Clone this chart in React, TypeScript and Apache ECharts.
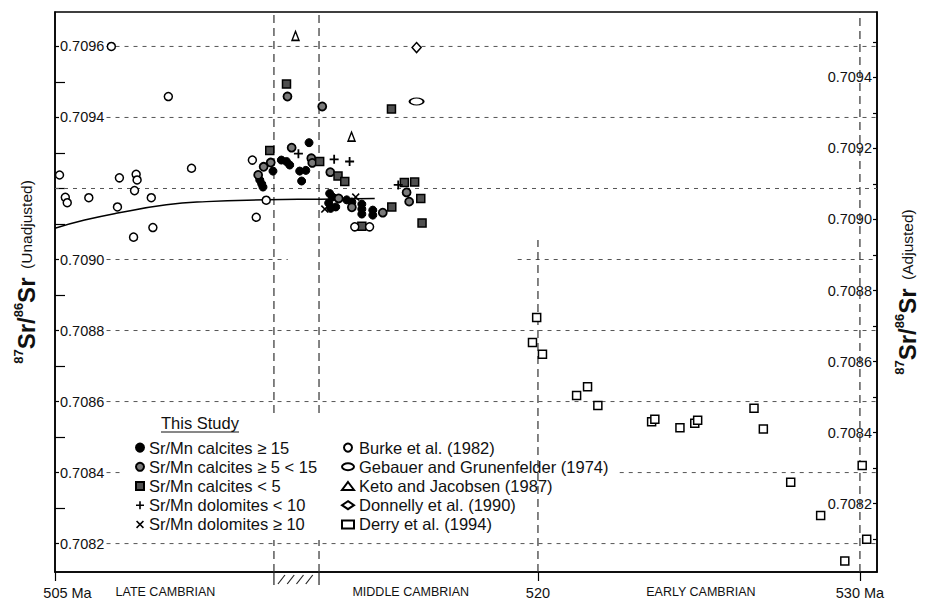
import React, { useEffect, useRef } from "react";
import * as echarts from "echarts";

type Pt = [number, number];

// ---------- data (age in Ma, 87Sr/86Sr unadjusted) ----------
const calcitesHigh: Pt[] = [
  [512.89, 0.709329], [512.03, 0.70928], [512.19, 0.709276], [512.29, 0.709266],
  [511.77, 0.709249], [511.36, 0.709224], [511.42, 0.709213], [511.46, 0.709204],
  [512.6, 0.709249], [512.79, 0.709251], [512.66, 0.709221], [513.53, 0.709186],
  [513.62, 0.709176], [513.5, 0.709159], [513.72, 0.709148], [513.56, 0.709144],
  [514.06, 0.709168], [514.22, 0.709162], [514.53, 0.709156], [514.53, 0.709142],
  [514.53, 0.709128], [514.87, 0.709139], [514.87, 0.709125],
];
const calcitesMid: Pt[] = [
  [512.22, 0.709459], [513.3, 0.709431], [512.35, 0.709315], [511.7, 0.709273],
  [511.48, 0.709261], [511.31, 0.709238], [512.96, 0.709285], [512.99, 0.709272],
  [513.55, 0.709246], [513.81, 0.709172], [514.22, 0.709147], [515.18, 0.709132],
  [515.92, 0.709189], [516.0, 0.709163],
];
const calcitesLow: Pt[] = [
  [512.19, 0.709494], [515.45, 0.709424], [511.67, 0.709307], [513.22, 0.709276],
  [513.79, 0.709235], [514.0, 0.70922], [515.85, 0.709217], [516.17, 0.709218],
  [516.36, 0.709172], [515.46, 0.709148], [516.4, 0.709103], [514.53, 0.709094],
];
const dolomitesLow: Pt[] = [
  [512.56, 0.709298], [513.67, 0.709282], [514.15, 0.709276], [515.66, 0.70921],
];
const dolomitesHigh: Pt[] = [[513.38, 0.709142], [514.34, 0.709176]];
const burke: Pt[] = [
  [506.75, 0.7096], [505.14, 0.709238], [505.32, 0.709175], [505.38, 0.70916],
  [506.05, 0.709174], [507.0, 0.70923], [506.94, 0.709148], [507.52, 0.70924],
  [507.55, 0.709224], [507.47, 0.709194], [507.99, 0.709174], [507.44, 0.709063],
  [508.04, 0.70909], [508.52, 0.709459], [509.24, 0.709257], [511.13, 0.70928],
  [511.25, 0.709119], [511.56, 0.709167], [514.31, 0.709092], [514.77, 0.709092],
];
const gebauer: Pt[] = [[516.23, 0.709445]];
const keto: Pt[] = [[512.47, 0.70963], [514.21, 0.709346]];
const donnelly: Pt[] = [[516.23, 0.709597]];
const derry: Pt[] = [
  [519.96, 0.708837], [519.83, 0.708766], [520.14, 0.708733], [521.2, 0.708617],
  [521.54, 0.708642], [521.86, 0.708589], [523.53, 0.708543], [523.63, 0.70855],
  [524.41, 0.708526], [524.87, 0.708539], [524.96, 0.708547], [526.71, 0.708581],
  [527.0, 0.708523], [527.85, 0.708373], [528.78, 0.708279], [529.53, 0.708151],
  [530.07, 0.70842], [530.21, 0.708212],
];
const trendCurve: Pt[] = [
  [505.0, 0.709088], [505.92, 0.709111], [506.9, 0.70913], [508.46, 0.709154],
  [509.7, 0.709163], [511.56, 0.709168], [513.22, 0.70917], [514.93, 0.709172],
];

// ---------- axes ----------
const xMin = 505;
const xMax = 530.53;
const leftMin = 0.70812;
const leftMax = 0.709697;
const adjustShift = 0.0001127;
const rightMin = leftMin - adjustShift;
const rightMax = leftMax - adjustShift;

const leftLabelValues = [0.7082, 0.7084, 0.7086, 0.7088, 0.709, 0.7094, 0.7096];
const leftMinorTicks = [0.7083, 0.7085, 0.7087, 0.7089, 0.7091, 0.7092, 0.7093, 0.7095];
const rightLabelValues = [0.7082, 0.7084, 0.7086, 0.7088, 0.709, 0.7092, 0.7094];
const rightTicks = [
  0.7081, 0.7082, 0.7083, 0.7084, 0.7085, 0.7086, 0.7087, 0.7088,
  0.7089, 0.709, 0.7091, 0.7092, 0.7093, 0.7094, 0.7095,
];
const xTickValues = [505, 520, 530];
const xLabels: [number, string][] = [
  [505, "505 Ma"],
  [508.43, "LATE CAMBRIAN"],
  [516.05, "MIDDLE CAMBRIAN"],
  [520, "520"],
  [525.06, "EARLY CAMBRIAN"],
  [530, "530 Ma"],
];
const boundaryBand: [number, number] = [511.8, 513.2];

// dashed guide lines: [xFrom, xTo, y]
const hGuides: [number, number, number][] = [
  [506.6, xMax, 0.7096],
  [506.6, xMax, 0.7094],
  [505, xMax, 0.7092],
  [506.6, 512.23, 0.709],
  [519.37, xMax, 0.709],
  [506.6, xMax, 0.7088],
  [506.6, xMax, 0.7086],
  [506.6, 507.1, 0.7084],
  [522.54, xMax, 0.7084],
  [506.6, xMax, 0.7082],
];
// [x, yFrom, yTo]
const vGuides: [number, number, number][] = [
  [511.8, 0.708568, leftMax],
  [511.8, leftMin, 0.70821],
  [513.2, 0.708568, leftMax],
  [513.2, leftMin, 0.70821],
  [520, leftMin, 0.709055],
  [530, leftMin, leftMax],
];

const SANS = "'Liberation Sans', Arial, Helvetica, sans-serif";
const INK = "#111";

const plusPath = "path://M4,0H6V4H10V6H6V10H4V6H0V4H4Z";
const crossPath =
  "path://M1.4,0L5,3.6L8.6,0L10,1.4L6.4,5L10,8.6L8.6,10L5,6.4L1.4,10L0,8.6L3.6,5L0,1.4Z";
const ellipsePath = "path://M0,4A7,4 0 1,1 14,4A7,4 0 1,1 0,4Z";

const NAMES = {
  c15: "Sr/Mn calcites \u2265 15",
  c5: "Sr/Mn calcites \u2265 5 < 15",
  c0: "Sr/Mn calcites < 5",
  d10: "Sr/Mn dolomites < 10",
  dx: "Sr/Mn dolomites \u2265 10",
  burke: "Burke et al. (1982)",
  geb: "Gebauer and Grunenfelder (1974)",
  keto: "Keto and Jacobsen (1987)",
  don: "Donnelly et al. (1990)",
  derry: "Derry et al. (1994)",
};

const nameRich = {
  sup: { fontFamily: SANS, fontSize: 13, fontWeight: "bold", verticalAlign: "top", lineHeight: 15, color: INK },
  sr: { fontFamily: SANS, fontSize: 24, fontWeight: "bold", lineHeight: 28, verticalAlign: "middle", color: INK },
  txt: { fontFamily: SANS, fontSize: 15.5, lineHeight: 28, verticalAlign: "middle", color: INK },
};

function scatter(name: string, data: Pt[], symbol: string, size: number | number[], fill: string, border: string, bw: number) {
  return {
    type: "scatter",
    name,
    data,
    symbol,
    symbolSize: size,
    z: 4,
    itemStyle: { color: fill, borderColor: border, borderWidth: bw, opacity: 1 },
    emphasis: { disabled: true },
  };
}

const legendText = { fontFamily: SANS, fontSize: 16.5, lineHeight: 19.2, color: INK };
const tickFont = { fontFamily: SANS, fontSize: 14.5, color: INK };

function buildOption() {
  return {
    animation: false,
    backgroundColor: "#fff",
    grid: { left: 55, right: 51, top: 12, bottom: 29, show: true, borderColor: "#000", borderWidth: 1.5, backgroundColor: "transparent" },
    xAxis: {
      type: "value",
      min: xMin,
      max: xMax,
      axisLine: { show: true, lineStyle: { color: "#000", width: 1.5 } },
      axisTick: { show: true, inside: false, length: 9, customValues: xTickValues, lineStyle: { color: "#000", width: 1.2 } },
      axisLabel: {
        customValues: xLabels.map((l) => l[0]),
        margin: 13,
        ...tickFont,
        formatter: (v: number) => {
          const f = xLabels.find((l) => Math.abs(l[0] - v) < 1e-6);
          if (!f) return "";
          if (f[0] === 505) return "{shift|" + f[1] + "}";
          if (/[A-Z]{3}/.test(f[1])) return "{era|" + f[1] + "}";
          return "{num|" + f[1] + "}";
        },
        rich: {
          shift: { ...tickFont, padding: [0, 0, 0, 25] },
          num: { ...tickFont },
          era: { fontFamily: SANS, fontSize: 12.5, color: INK },
        },
      },
      splitLine: { show: false },
    },
    yAxis: [
      {
        type: "value",
        min: leftMin,
        max: leftMax,
        position: "left",
        axisLine: { show: true, lineStyle: { color: "#000", width: 1.5 } },
        axisTick: { show: true, inside: true, length: 4, customValues: leftLabelValues, lineStyle: { color: "#000", width: 1.2 } },
        axisLabel: {
          inside: true,
          margin: 5,
          customValues: leftLabelValues,
          formatter: (v: number) => v.toFixed(4),
          ...tickFont,
        },
        splitLine: { show: false },
        name: "{sup|87}{sr|Sr/}{sup|86}{sr|Sr}{txt|  (Unadjusted)}",
        nameLocation: "middle",
        nameRotate: 90,
        nameGap: 15,
        nameTextStyle: { rich: nameRich, padding: [0, 0, 0, 40] },
      },
      {
        type: "value",
        min: rightMin,
        max: rightMax,
        position: "right",
        axisLine: { show: true, lineStyle: { color: "#000", width: 1.5 } },
        axisTick: { show: true, inside: true, length: 4, customValues: rightTicks, lineStyle: { color: "#000", width: 1.2 } },
        axisLabel: {
          inside: true,
          margin: 5,
          customValues: rightLabelValues,
          formatter: (v: number) => v.toFixed(4),
          ...tickFont,
        },
        splitLine: { show: false },
        name: "{sup|87}{sr|Sr/}{sup|86}{sr|Sr}{txt|  (Adjusted)}",
        nameLocation: "middle",
        nameRotate: 90,
        nameGap: 16,
        nameTextStyle: { rich: nameRich },
      },
      {
        type: "value",
        min: leftMin,
        max: leftMax,
        position: "left",
        axisLine: { show: false },
        axisTick: { show: true, inside: true, length: 10, customValues: leftMinorTicks, lineStyle: { color: "#000", width: 1.2 } },
        axisLabel: { show: false },
        splitLine: { show: false },
      },
    ],
    legend: [
      {
        data: [NAMES.c15, NAMES.c5, NAMES.c0, NAMES.d10, NAMES.dx],
        orient: "vertical",
        left: 130,
        top: 433,
        padding: 5,
        itemWidth: 8,
        itemHeight: 8,
        itemGap: 0,
        selectedMode: false,
        textStyle: legendText,
      },
      {
        data: [NAMES.burke, NAMES.geb, NAMES.keto, NAMES.don, NAMES.derry],
        orient: "vertical",
        left: 336,
        top: 433,
        padding: 5,
        itemWidth: 12,
        itemHeight: 8,
        itemGap: 0,
        selectedMode: false,
        textStyle: legendText,
      },
    ],
    graphic: [
      { type: "text", left: 161, top: 414, style: { text: "This Study", fontFamily: SANS, fontSize: 16.5, fill: INK } },
      { type: "line", shape: { x1: 161, y1: 432, x2: 239, y2: 432 }, style: { stroke: INK, lineWidth: 1 } },
    ],
    series: [
      {
        type: "custom",
        name: "guides",
        silent: true,
        clip: false,
        z: 1,
        data: [
          ...hGuides.map(([a, b, y]) => [a, y, b, y, 0]),
          ...vGuides.map(([x, a, b]) => [x, a, x, b, 1]),
        ],
        encode: { x: [0, 2], y: [1, 3] },
        renderItem: (_p: any, api: any) => {
          const a = api.coord([api.value(0), api.value(1)]);
          const b = api.coord([api.value(2), api.value(3)]);
          const vertical = api.value(4) === 1;
          return {
            type: "line",
            shape: { x1: a[0], y1: a[1], x2: b[0], y2: b[1] },
            style: { stroke: vertical ? "#333" : "#555", lineWidth: vertical ? 1.2 : 1, lineDash: vertical ? [8, 5] : [4, 5] },
          };
        },
      },
      {
        type: "custom",
        name: "boundary",
        silent: true,
        clip: false,
        z: 1,
        data: [[boundaryBand[0], boundaryBand[1], leftMin]],
        encode: { x: [0, 1], y: 2 },
        renderItem: (_p: any, api: any) => {
          const a = api.coord([api.value(0), api.value(2)]);
          const b = api.coord([api.value(1), api.value(2)]);
          const children: any[] = [
            { type: "line", shape: { x1: a[0], y1: a[1], x2: a[0], y2: a[1] + 13 }, style: { stroke: "#222", lineWidth: 1.2 } },
            { type: "line", shape: { x1: b[0], y1: b[1], x2: b[0], y2: b[1] + 13 }, style: { stroke: "#222", lineWidth: 1.2 } },
          ];
          const w = b[0] - a[0];
          for (let i = 0; i < 4; i++) {
            const x = a[0] + 4 + (i * (w - 8)) / 4;
            children.push({ type: "line", shape: { x1: x, y1: a[1] + 12, x2: x + 7, y2: a[1] + 3 }, style: { stroke: "#222", lineWidth: 1.2 } });
          }
          return { type: "group", children };
        },
      },
      {
        type: "line",
        name: "trend",
        data: trendCurve,
        smooth: true,
        showSymbol: false,
        symbol: "none",
        z: 3,
        lineStyle: { color: "#000", width: 1.5 },
        emphasis: { disabled: true },
      },
      scatter(NAMES.c15, calcitesHigh, "circle", 8, "#000", "#000", 1),
      scatter(NAMES.c5, calcitesMid, "circle", 8, "#7a7a7a", "#000", 1.8),
      scatter(NAMES.c0, calcitesLow, "rect", 8, "#505050", "#000", 1.5),
      scatter(NAMES.d10, dolomitesLow, plusPath, 9, "#000", "#000", 0),
      scatter(NAMES.dx, dolomitesHigh, crossPath, 8, "#000", "#000", 0),
      scatter(NAMES.burke, burke, "circle", 8, "#fff", "#000", 1.5),
      scatter(NAMES.geb, gebauer, ellipsePath, [14, 7], "#fff", "#000", 1.5),
      scatter(NAMES.keto, keto, "triangle", [7, 9], "#fff", "#000", 1.5),
      scatter(NAMES.don, donnelly, "diamond", [9, 10], "#fff", "#000", 1.5),
      scatter(NAMES.derry, derry, "rect", 8, "#fff", "#000", 1.5),
    ],
  };
}

export default function App() {
  const ref = useRef<HTMLDivElement>(null);
  useEffect(() => {
    document.body.style.margin = "0";
    const chart = echarts.init(ref.current!, null, { renderer: "svg" });
    chart.setOption(buildOption() as any);
    return () => chart.dispose();
  }, []);
  return <div ref={ref} style={{ width: 928, height: 601 }} />;
}
